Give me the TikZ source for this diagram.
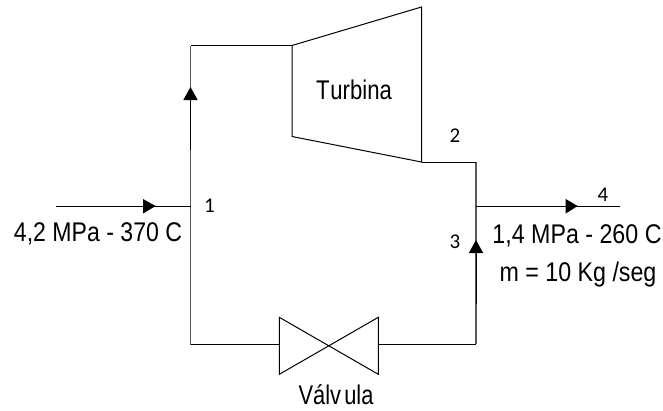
\documentclass[tikz,border=0pt]{standalone}
\usepackage{fontspec}
\setmainfont{Liberation Sans}
\newfontfamily\numfont{Carlito}
\newcommand{\narrowtext}[2]{\scalebox{#1}[1]{#2}}
\begin{document}
\begin{tikzpicture}[x=1pt,y=-1pt,
  pipe/.style={draw=black,line width=1pt},
  greypipe/.style={draw=black!65,line width=1.2pt},
  body/.style={draw=black,line width=1pt,line join=miter},
  head/.style={fill=black,draw=none},
  lbl/.style={font=\fontsize{27}{30}\selectfont,anchor=base,inner sep=0pt},
  num/.style={font=\numfont\fontsize{21}{24}\selectfont,anchor=center,inner sep=0pt}]
\useasboundingbox (0,0) rectangle (663,410);
% junctions and ends
\coordinate (inA) at (55.5,206);
\coordinate (j1) at (190.5,206);
\coordinate (tl) at (190.5,45.5);
\coordinate (bl) at (190.5,344.5);
\coordinate (j2) at (476,206);
\coordinate (tr) at (476,162);
\coordinate (br) at (476,344);
\coordinate (outB) at (620,206);
% turbine
\coordinate (t1) at (292,45.5);
\coordinate (t2) at (421.5,7);
\coordinate (t3) at (421.5,162);
\coordinate (t4) at (292,136.5);
\draw[body] (t1) -- (t2) -- (t3) -- (t4) -- cycle;
% valve
\coordinate (v1) at (279.3,317.3);
\coordinate (v2) at (279.3,374.3);
\coordinate (v3) at (378.3,317.3);
\coordinate (v4) at (378.3,374.3);
\coordinate (vl) at (279.3,344.5);
\coordinate (vr) at (378.3,344);
\draw[body] (v1) -- (v2) -- (v3) -- (v4) -- cycle;
% pipes
\draw[greypipe] (bl) -- (tl);
\draw[pipe] (190.5,150) -- (190.5,95);
\draw[pipe] (tl) -- (t1);
\draw[pipe] (inA) -- (j1);
\draw[pipe] (bl) -- (vl);
\draw[pipe] (vr) -- (br);
\draw[greypipe] (br) -- (tr);
\draw[pipe] (476,304) -- (476,248);
\draw[pipe] (t3) -- (tr);
\draw[pipe] (j2) -- (outB);
% arrowheads
\fill[head] (190.5,87) -- (183.3,100) -- (197.7,100) -- cycle;
\fill[head] (155.7,206) -- (143,199) -- (143,213.5) -- cycle;
\fill[head] (577.7,206) -- (565.7,199) -- (565.7,213.5) -- cycle;
\fill[head] (476,240) -- (468.8,253) -- (483.2,253) -- cycle;
% labels
\node[lbl] (turb) at (354,99) {\narrowtext{.82}{T\kern1pt urbina}};
\node[lbl] (valv) at (336,404) {\narrowtext{.81}{Válv\kern4pt ula}};
\node[lbl] (pin) at (98,241) {\narrowtext{.855}{4,2 MPa - 370 C}};
\node[lbl] (pout) at (577,243) {\narrowtext{.86}{1,4 MPa - 260 C}};
\node[lbl] (mflow) at (578,281) {\narrowtext{.86}{m = 10 Kg /seg}};
\node[num] (n1) at (209.5,206) {1};
\node[num] (n2) at (455,136) {2};
\node[num] (n3) at (455,242) {3};
\node[num] (n4) at (603,195) {4};
\end{tikzpicture}
\end{document}
